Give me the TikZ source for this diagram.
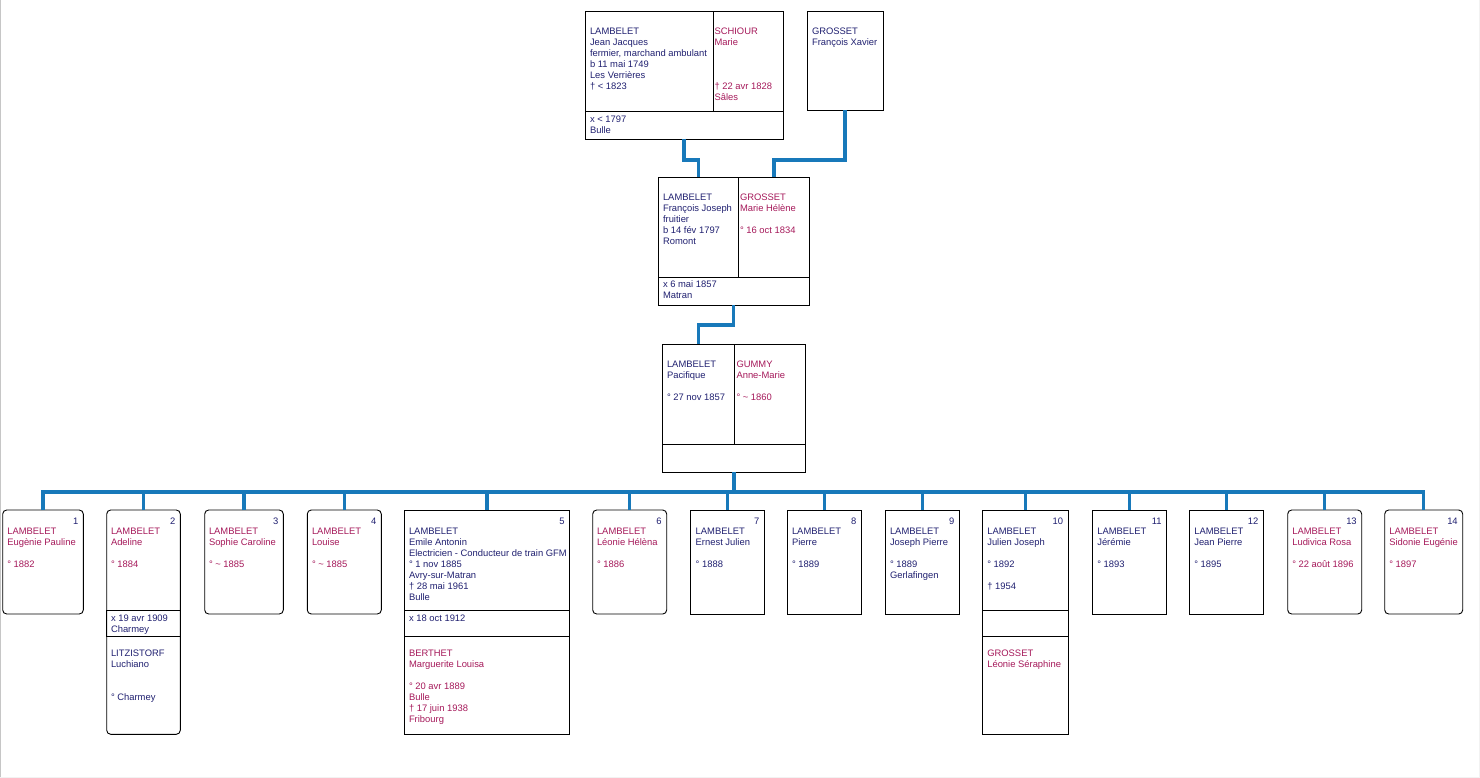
\documentclass[tikz,border=0pt]{standalone}
\usepackage{fontspec}
\setmainfont{Liberation Sans}
\definecolor{navy}{RGB}{32,32,112}
\definecolor{mag}{RGB}{165,25,90}
\definecolor{linkblue}{RGB}{24,121,186}
\newcommand\tl[1]{\begin{tabular}{@{}l@{}}#1\end{tabular}}
\newcommand\mkbox[6]{\node[cell,#6,minimum width={(#4-#2)*1pt},minimum height={(#5-#3)*1pt}] (#1) at (#2,#3) {};}
\begin{document}
\begin{tikzpicture}[x=1pt,y=-1pt,
  cell/.style={draw=black,line width=0.9pt,inner sep=0pt,outer sep=0pt,anchor=north west},
  fem/.style={rounded corners=4pt},
  plain/.style={},
  txt/.style={inner sep=0pt,outer sep=0pt,anchor=north west,font=\fontsize{9.4}{11}\selectfont},
  maltxt/.style={txt,text=navy},
  femtxt/.style={txt,text=mag},
  numtxt/.style={txt,anchor=north east,text=navy},
  conn/.style={draw=linkblue,line width=3.5pt}]
\useasboundingbox (0,0) rectangle (1480,778);
\draw[gray!45,line width=1pt] (0.5,0) -- (0.5,778);
\draw[gray!10,line width=1pt] (1479.5,0) -- (1479.5,777.5) -- (0,777.5);

% ---------- generation 1 ----------
\mkbox{Al}{585}{11}{713}{111}{plain}
\mkbox{Ar}{713}{11}{783}{111}{plain}
\mkbox{Am}{585}{111}{783}{139}{plain}
\mkbox{B}{807}{11}{883}{110.5}{plain}
\node[maltxt] (Alt) at (590,26.6) {\tl{LAMBELET\\Jean Jacques\\fermier, marchand ambulant\\b 11 mai 1749\\Les Verrières\\† < 1823}};
\node[femtxt] (Art) at (714.5,26.6) {\tl{SCHIOUR\\Marie\\ \\ \\ \\† 22 avr 1828\\Sâles}};
\node[maltxt] (Amt) at (590,114.6) {\tl{x < 1797\\Bulle}};
\node[maltxt] (Bt) at (812,26.6) {\tl{GROSSET\\François Xavier}};

% ---------- generation 2 ----------
\mkbox{Cl}{658}{177}{738.5}{277.5}{plain}
\mkbox{Cr}{738.5}{177}{809}{277.5}{plain}
\mkbox{Cm}{658}{277.5}{809}{305}{plain}
\node[maltxt] (Clt) at (663,192.6) {\tl{LAMBELET\\François Joseph\\fruitier\\b 14 fév 1797\\Romont}};
\node[femtxt] (Crt) at (740,192.6) {\tl{GROSSET\\Marie Hélène\\ \\° 16 oct 1834}};
\node[maltxt] (Cmt) at (663,280) {\tl{x 6 mai 1857\\Matran}};

% ---------- generation 3 ----------
\mkbox{Dl}{662}{344}{734.5}{444.5}{plain}
\mkbox{Dr}{734.5}{344}{805.5}{444.5}{plain}
\mkbox{Dm}{662}{444.5}{805.5}{472}{plain}
\node[maltxt] (Dlt) at (667,360) {\tl{LAMBELET\\Pacifique\\ \\° 27 nov 1857}};
\node[femtxt] (Drt) at (736.5,360) {\tl{GUMMY\\Anne-Marie\\ \\° \textasciitilde{} 1860}};

% ---------- children ----------
\mkbox{c1}{2.7}{510}{83.3}{614}{fem}
\mkbox{c2}{106.7}{510}{180.3}{734.3}{fem}
\mkbox{c2m}{106.7}{610.3}{180.3}{636.3}{plain}
\mkbox{c3}{204.7}{510}{283.3}{614}{fem}
\mkbox{c4}{307.3}{510}{381.3}{614}{fem}
\mkbox{c5}{404}{510}{569.7}{734.3}{plain}
\mkbox{c5m}{404}{610.3}{569.7}{636.3}{plain}
\mkbox{c6}{592.7}{510}{666.7}{614}{fem}
\mkbox{c7}{690.7}{510}{764.3}{614}{plain}
\mkbox{c8}{787.3}{510}{861.3}{614}{plain}
\mkbox{c9}{885.3}{510}{959.3}{614}{plain}
\mkbox{c10}{982.7}{510}{1068}{734.3}{plain}
\mkbox{c10m}{982.7}{610.3}{1068}{636.3}{plain}
\mkbox{c11}{1092.7}{510}{1166.7}{614}{plain}
\mkbox{c12}{1189.3}{510}{1263.3}{614}{plain}
\mkbox{c13}{1287.7}{510}{1361.7}{614}{fem}
\mkbox{c14}{1384.7}{510}{1462.7}{614}{fem}

\foreach \n/\r in {1/83.3,2/180.3,3/283.3,4/381.3,5/569.7,6/666.7,7/764.3,8/861.3,9/959.3,10/1068,11/1166.7,12/1263.3,13/1361.7,14/1462.7}
  \node[numtxt] (n\n) at (\r-5,516.3) {\tl{\n}};

\node[femtxt] (t1) at (7.3,526.3) {\tl{LAMBELET\\Eugènie Pauline\\ \\° 1882}};
\node[femtxt] (t2) at (111,526.3) {\tl{LAMBELET\\Adeline\\ \\° 1884}};
\node[maltxt] (t2m) at (111,613.3) {\tl{x 19 avr 1909\\Charmey}};
\node[maltxt] (t2s) at (111,648.3) {\tl{LITZISTORF\\Luchiano\\ \\ \\° Charmey}};
\node[femtxt] (t3) at (209,526.3) {\tl{LAMBELET\\Sophie Caroline\\ \\° \textasciitilde{} 1885}};
\node[femtxt] (t4) at (312,526.3) {\tl{LAMBELET\\Louise\\ \\° \textasciitilde{} 1885}};
\node[maltxt] (t5) at (409,526.3) {\tl{LAMBELET\\Emile Antonin\\Electricien - Conducteur de train GFM\\° 1 nov 1885\\Avry-sur-Matran\\† 28 mai 1961\\Bulle}};
\node[maltxt] (t5m) at (409,613.3) {\tl{x 18 oct 1912}};
\node[femtxt] (t5s) at (409,648.3) {\tl{BERTHET\\Marguerite Louisa\\ \\° 20 avr 1889\\Bulle\\† 17 juin 1938\\Fribourg}};
\node[femtxt] (t6) at (597,526.3) {\tl{LAMBELET\\Léonie Hélèna\\ \\° 1886}};
\node[maltxt] (t7) at (695.7,526.3) {\tl{LAMBELET\\Ernest Julien\\ \\° 1888}};
\node[maltxt] (t8) at (792,526.3) {\tl{LAMBELET\\Pierre\\ \\° 1889}};
\node[maltxt] (t9) at (890,526.3) {\tl{LAMBELET\\Joseph Pierre\\ \\° 1889\\Gerlafingen}};
\node[maltxt] (t10) at (987.3,526.3) {\tl{LAMBELET\\Julien Joseph\\ \\° 1892\\ \\† 1954}};
\node[femtxt] (t10s) at (987.3,648.3) {\tl{GROSSET\\Léonie Séraphine}};
\node[maltxt] (t11) at (1097.3,526.3) {\tl{LAMBELET\\Jérémie\\ \\° 1893}};
\node[maltxt] (t12) at (1194.3,526.3) {\tl{LAMBELET\\Jean Pierre\\ \\° 1895}};
\node[femtxt] (t13) at (1292.3,526.3) {\tl{LAMBELET\\Ludivica Rosa\\ \\° 22 août 1896}};
\node[femtxt] (t14) at (1389.3,526.3) {\tl{LAMBELET\\Sidonie Eugénie\\ \\° 1897}};

% ---------- connectors ----------
\coordinate (midAB) at (0,160);
\coordinate (midCD) at (0,325);
\coordinate (bus) at (0,492);
\draw[conn] (Am.south) -- (Am.south |- midAB) -| (Cl.north);
\draw[conn] (B.south) -- (B.south |- midAB) -| (Cr.north);
\draw[conn] (Cm.south) -- (Cm.south |- midCD) -| (Dl.north);
\draw[conn] (Dm.south) -- (Dm.south |- bus);
\draw[conn] (c1.north) -- (c1.north |- bus) -- (c14.north |- bus) -- (c14.north);
\foreach \k in {2,...,13}
  \draw[conn] (c\k.north) -- (c\k.north |- bus);
\end{tikzpicture}
\end{document}
